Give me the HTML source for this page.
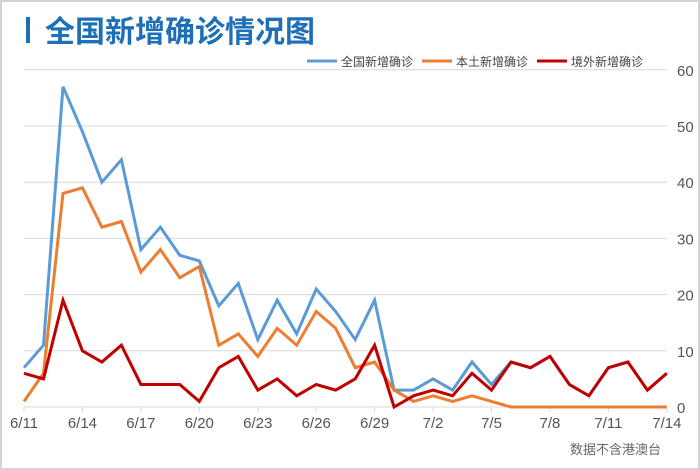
<!DOCTYPE html>
<html><head><meta charset="utf-8"><style>
body{margin:0;background:#fff}
#w{position:relative;width:696px;height:466px;border:2px solid #d4d4d4;overflow:hidden;background:#fff}
svg{position:absolute;left:-2px;top:-2px}
text{font-family:"Liberation Sans","Noto Sans CJK SC",sans-serif}
</style></head><body><div id="w">
<svg id="s" width="700" height="470" xmlns="http://www.w3.org/2000/svg">
<rect x="26" y="17" width="4" height="26" fill="#1d6fb8"/>
<text x="45" y="42" font-size="30" font-weight="bold" fill="#1d6fb8">全国新增确诊情况图</text>
<line x1="307" y1="61" x2="337" y2="61" stroke="#5b9bd5" stroke-width="3"/>
<text x="341" y="66" font-size="12" fill="#444">全国新增确诊</text>
<line x1="422" y1="61" x2="452" y2="61" stroke="#ed7d31" stroke-width="3"/>
<text x="456" y="66" font-size="12" fill="#444">本土新增确诊</text>
<line x1="537" y1="61" x2="567" y2="61" stroke="#c00000" stroke-width="3"/>
<text x="571" y="66" font-size="12" fill="#444">境外新增确诊</text>
<text x="570" y="454" font-size="13" fill="#666">数据不含港澳台</text>
<g id="g"></g>
</svg></div>
<script>
var g=document.getElementById('g'),h='';
function X(i){return 24+i*19.48}function Y(v){return 407-v*5.62}
for(var k=0;k<=6;k++){var y=Y(k*10);h+='<line x1="24" y1="'+y+'" x2="667" y2="'+y+'" stroke="#d9d9d9" stroke-width="1"/>';h+='<text x="677" y="'+(y+6)+'" font-size="15" fill="#555">'+(k*10)+'</text>';}
var lab=['6/11','6/14','6/17','6/20','6/23','6/26','6/29','7/2','7/5','7/8','7/11','7/14'];
for(var i=0;i<12;i++){var x=X(i*3);h+='<line x1="'+x+'" y1="407" x2="'+x+'" y2="412" stroke="#d9d9d9"/>';h+='<text x="'+x+'" y="428" font-size="15" fill="#555" text-anchor="middle">'+lab[i]+'</text>';}
var A=[7,11,57,49,40,44,28,32,27,26,18,22,12,19,13,21,17,12,19,3,3,5,3,8,4,8,7,9,4,2,7,8,3,6];
var L=[1,6,38,39,32,33,24,28,23,25,11,13,9,14,11,17,14,7,8,3,1,2,1,2,1,0,0,0,0,0,0,0,0,0];
var I=[6,5,19,10,8,11,4,4,4,1,7,9,3,5,2,4,3,5,11,0,2,3,2,6,3,8,7,9,4,2,7,8,3,6];
function P(d,c){var p=d.map(function(v,i){return X(i).toFixed(1)+','+Y(v).toFixed(1)}).join(' ');return '<polyline points="'+p+'" fill="none" stroke="'+c+'" stroke-width="3" stroke-linejoin="miter"/>';}
h+=P(A,'#5b9bd5')+P(L,'#ed7d31')+P(I,'#c00000');
g.innerHTML=h;
</script></body></html>
